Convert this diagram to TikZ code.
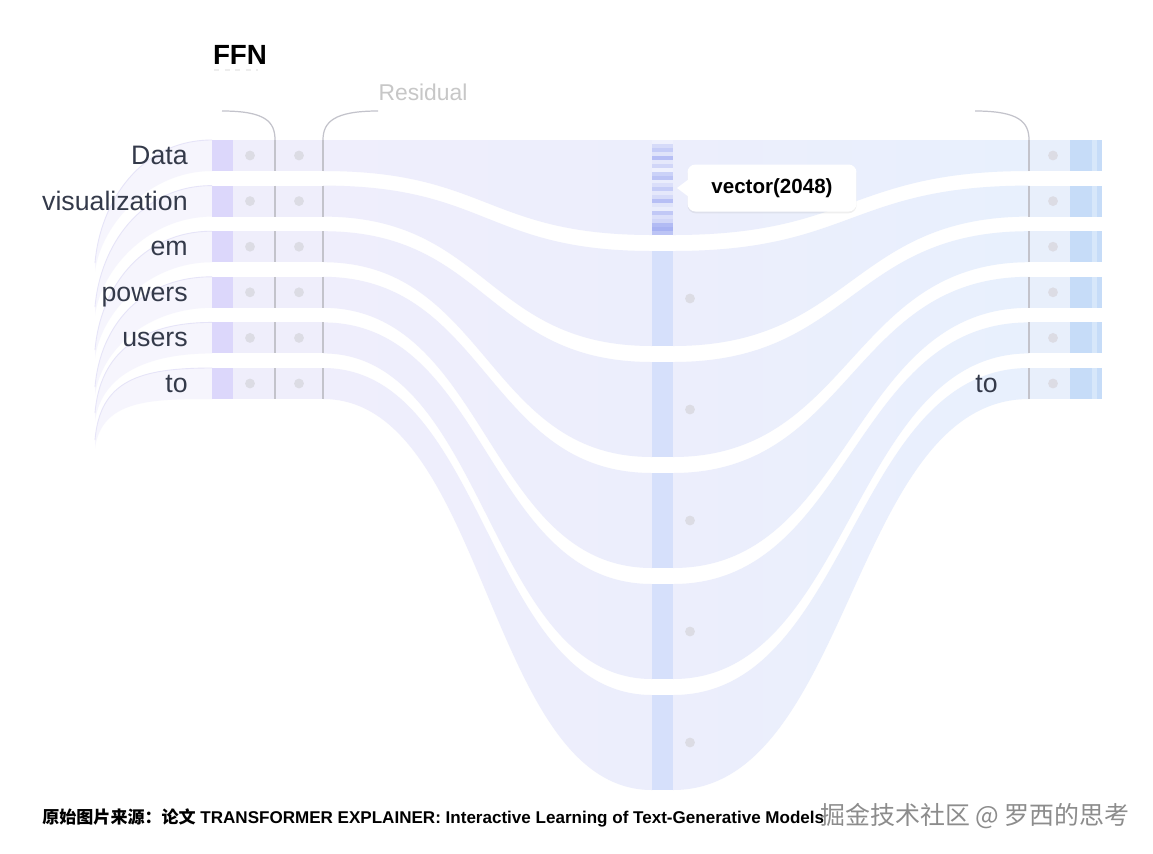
\documentclass[tikz,border=0pt]{standalone}
\usepackage{fontspec}
\setmainfont{Liberation Sans}
\newfontfamily\cjk{Noto Sans CJK SC}
\usetikzlibrary{shadows}
\definecolor{flowA}{HTML}{EFEEFC}
\definecolor{flowB}{HTML}{ECEEFC}
\definecolor{flowC}{HTML}{E8F0FD}
\definecolor{cellL}{HTML}{EFEEFB}
\definecolor{cellR}{HTML}{E8EFFB}
\definecolor{blockL}{HTML}{DCD7FB}
\definecolor{blockR}{HTML}{C6DCF8}
\definecolor{colmid}{HTML}{D6E0FB}
\definecolor{stripe}{HTML}{98A4F0}
\definecolor{dotc}{HTML}{DCDCE4}
\definecolor{rule}{HTML}{C3C3CB}
\definecolor{ink}{HTML}{343A4A}
\definecolor{fanc}{HTML}{F4F3FD}
\definecolor{fanedge}{HTML}{E6E4F8}

\begin{document}
\begin{tikzpicture}[x=0.02cm, y=-0.02cm,
  every node/.append style={inner sep=0pt},
  lbl/.style={anchor=base east, text=ink, font=\fontsize{15.2}{18}\selectfont},
  rulel/.style={draw=rule, line width=0.7pt},
  tipbox/.style={fill=white, rounded corners=4.5pt, minimum width=3.38cm, minimum height=0.94cm,
    font=\bfseries\fontsize{11.7}{14}\selectfont,
    drop shadow={shadow xshift=0pt, shadow yshift=-1pt, opacity=0.12}}]
  \useasboundingbox[fill=white] (0,0) rectangle (1153,853);
  % faded paths on the left
  \foreach \i/\e in {0/263,1/307,2/350,3/387,4/413,5/440} {
    \pgfmathsetmacro{\t}{140+45.6*\i}
    \pgfmathsetmacro{\b}{\t+31}
    \fill[fanc, fill opacity=0.8] (212,\t) .. controls (140,\t) and (100,\e-60) .. (95,\e)
      -- (95,\e+8) .. controls (102,\e-40) and (150,\b) .. (212,\b) -- cycle;
    \draw[fanedge, line width=0.5pt] (212,\t) .. controls (140,\t) and (100,\e-60) .. (95,\e);
  }
  % flows into and out of the vector
  \foreach \i in {0,...,5} {
    \pgfmathsetmacro{\t}{140+45.6*\i}
    \pgfmathsetmacro{\b}{\t+31}
    \pgfmathsetmacro{\mt}{140+111*\i}
    \pgfmathsetmacro{\mb}{\mt+95}
    \shade[left color=flowA, right color=flowB] (323,\t) .. controls (487,\t) and (487,\mt) .. (652,\mt)
      -- (652,\mb) .. controls (487,\mb) and (487,\b) .. (323,\b) -- cycle;
    \shade[left color=flowB, right color=flowC] (673,\mt) .. controls (851,\mt) and (851,\t) .. (1029,\t)
      -- (1029,\b) .. controls (851,\b) and (851,\mb) .. (673,\mb) -- cycle;
  }
  % middle column
  \foreach \i in {1,...,5} {
    \fill[colmid] (652,140+111*\i) rectangle (673,235+111*\i);
    \fill[dotc] (690,187.5+111*\i) circle (2.8pt);
  }
  \fill[colmid] (652,140) rectangle (673,235);
  \foreach \v [count=\k from 0] in {15,40,55,30,70,25,45,15,50,65,20,35,55,25,40,70,30,20,60,35,45,75,85,65}
    \fill[stripe!\v!white] (652,140+3.95*\k) rectangle (673,143.95+3.95*\k);
  % token rows
  \foreach \i in {0,...,5} {
    \pgfmathsetmacro{\t}{140+45.6*\i}
    \pgfmathsetmacro{\b}{\t+31}
    \pgfmathsetmacro{\c}{\t+15.5}
    \fill[blockL] (212,\t) rectangle (233,\b);
    \fill[cellL] (233,\t) rectangle (323,\b);
    \draw[rulel] (275,\t) -- (275,\b);
    \draw[rulel] (323,\t) -- (323,\b);
    \fill[dotc] (250,\c) circle (2.8pt);
    \fill[dotc] (299,\c) circle (2.8pt);
    \fill[cellR] (1029,\t) rectangle (1070,\b);
    \fill[blockR] (1070,\t) rectangle (1102,\b);
    \fill[blockR!70!white] (1092,\t) rectangle (1097,\b);
    \draw[rulel] (1029,\t) -- (1029,\b);
    \fill[dotc] (1053,\c) circle (2.8pt);
  }
  \foreach \w [count=\i from 0] in {Data,visualization,em,powers,users,to}
    \node[lbl] (tok\i) at (188,{164.5+45.6*\i}) {\w};
  \node[lbl] (tokout) at (998,392.5) {to};
  % brackets
  \draw[rulel] (222,111) .. controls (266,111) and (275,122) .. (275,140);
  \draw[rulel] (378,111) .. controls (334,111) and (323,122) .. (323,140);
  \draw[rulel] (975,111) .. controls (1019,111) and (1029,122) .. (1029,140);
  \node[font=\bfseries\fontsize{15.8}{18}\selectfont] (ffn) at (240,55) {FFN};
  \draw[black!7, dashed, line width=0.6pt] (214,70) -- (258,70);
  \node[text=black!22, font=\fontsize{13}{15}\selectfont] (res) at (423,92) {Residual};
  % tooltip
  \node[tipbox] (vec) at (772,188) {vector(2048)};
  \fill[white] (689,179) -- (677,188) -- (689,197) -- cycle;
  % caption
  \node[anchor=west, font=\bfseries\fontsize{9.7}{11}\selectfont] (src) at (42,818)
    {{\cjk 原始图片来源：论文} TRANSFORMER EXPLAINER: Interactive Learning of Text-Generative Models};
  \node[anchor=west, text=black!45, font=\cjk\fontsize{14.2}{16}\selectfont] (mark) at (820,816)
    {掘金技术社区 @ 罗西的思考};
\end{tikzpicture}
\end{document}
